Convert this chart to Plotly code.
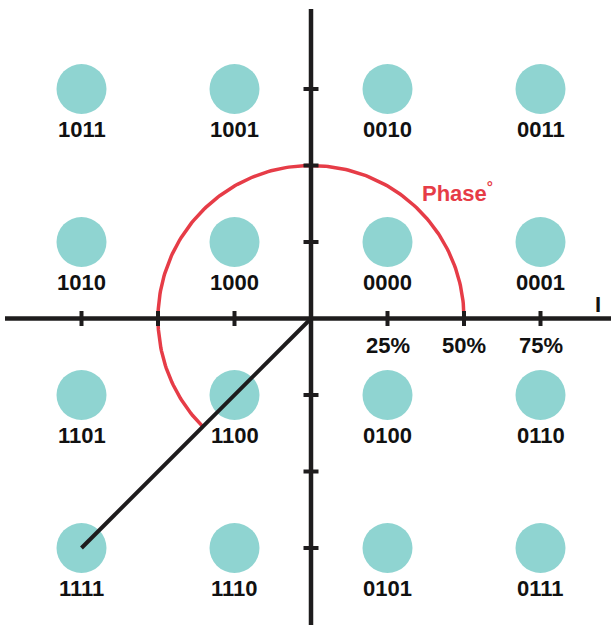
import numpy as np
import plotly.graph_objects as go

# ---- data ----
I_levels = [-75, -25, 25, 75]          # percent
Q_levels = [75, 25, -25, -75]          # percent (top to bottom)
symbol_labels = [
    ["1011", "1001", "0010", "0011"],
    ["1010", "1000", "0000", "0001"],
    ["1101", "1100", "0100", "0110"],
    ["1111", "1110", "0101", "0111"],
]
tick_values = [-75, -50, -25, 25, 50, 75]
x_tick_labels = {25: "25%", 50: "50%", 75: "75%"}
phase_radius = 50
phase_point = (-75, -75)   # symbol 1111

# ---- layout constants ----
PX = 76.5 / 25.0           # pixels per percent
W, H = 611, 625
ox, oy = 311, 318.5        # origin in pixels
x_range = [-ox / PX, (W - ox) / PX]
y_range = [-(H - oy) / PX, oy / PX]

teal = "#8FD4D1"
red = "#E63C47"
ink = "#1E1C1D"
font_family = "Liberation Sans, Arial, sans-serif"

fig = go.Figure()

# constellation points
px_, py_ = [], []
for r, q in enumerate(Q_levels):
    for c, i in enumerate(I_levels):
        px_.append(i)
        py_.append(q)
fig.add_trace(go.Scatter(x=px_, y=py_, mode="markers",
                         marker=dict(size=50, color=teal, line=dict(width=0)),
                         hoverinfo="skip", showlegend=False))

# phase arc
end_ang = np.degrees(np.arctan2(phase_point[1], phase_point[0])) % 360
ang = np.radians(np.linspace(0, end_ang, 200))
fig.add_trace(go.Scatter(x=phase_radius * np.cos(ang), y=phase_radius * np.sin(ang),
                         mode="lines", line=dict(color=red, width=3.5),
                         hoverinfo="skip", showlegend=False))

# axes
fig.add_trace(go.Scatter(x=[-100, x_range[1] + 1], y=[0, 0], mode="lines",
                         line=dict(color=ink, width=4.5), hoverinfo="skip", showlegend=False))
fig.add_trace(go.Scatter(x=[0, 0], y=[y_range[0] - 1, (oy - 9) / PX], mode="lines",
                         line=dict(color=ink, width=4.5), hoverinfo="skip", showlegend=False))

# tick marks
half = 7.5 / PX
tx, ty = [], []
for t in tick_values:
    tx += [t, t, None]
    ty += [-half, half, None]
    tx += [-half, half, None]
    ty += [t, t, None]
fig.add_trace(go.Scatter(x=tx, y=ty, mode="lines", line=dict(color=ink, width=4),
                         hoverinfo="skip", showlegend=False))

# phase vector line
fig.add_trace(go.Scatter(x=[0, phase_point[0]], y=[0, phase_point[1]], mode="lines",
                         line=dict(color=ink, width=4), hoverinfo="skip", showlegend=False))

annotations = []
lab_off = 40 / PX
for r, q in enumerate(Q_levels):
    for c, i in enumerate(I_levels):
        annotations.append(dict(x=i, y=q - lab_off, text=symbol_labels[r][c],
                                showarrow=False, xanchor="center", yanchor="middle",
                                font=dict(family=font_family, size=22, color="#111111",
                                          weight="bold")))
for t, s in x_tick_labels.items():
    annotations.append(dict(x=t, y=-27 / PX, text=s, showarrow=False,
                            xanchor="center", yanchor="middle",
                            font=dict(family=font_family, size=22, color="#111111",
                                      weight="bold")))
annotations.append(dict(x=(598 - ox) / PX, y=(oy - 304) / PX, text="I", showarrow=False,
                        xanchor="center", yanchor="middle",
                        font=dict(family=font_family, size=22, color="#111111", weight="bold")))
annotations.append(dict(x=(420 - ox) / PX, y=(oy - 192) / PX, text="Phase<sup>°</sup>",
                        showarrow=False, xanchor="left", yanchor="middle",
                        font=dict(family=font_family, size=22, color=red, weight="bold")))

fig.update_layout(
    width=W, height=H,
    margin=dict(l=0, r=0, t=0, b=0),
    paper_bgcolor="white", plot_bgcolor="white",
    xaxis=dict(range=x_range, visible=False, showgrid=False, zeroline=False, fixedrange=True),
    yaxis=dict(range=y_range, visible=False, showgrid=False, zeroline=False, fixedrange=True),
    annotations=annotations,
    showlegend=False,
)

fig.write_html("out.html", config={"displayModeBar": False},
               post_script="document.body.style.margin='0';document.body.style.overflow='hidden';")
